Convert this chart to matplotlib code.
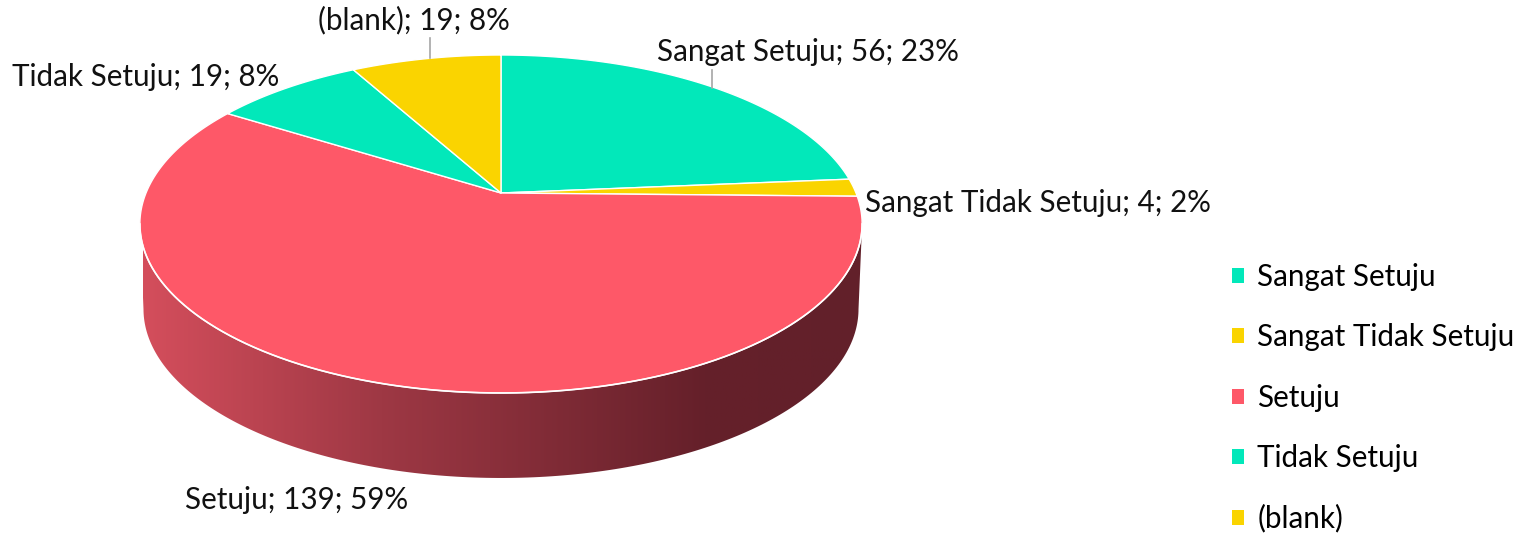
import numpy as np
import matplotlib
matplotlib.use("Agg")
import matplotlib.pyplot as plt
from matplotlib.patches import Polygon, Patch
from matplotlib.colors import LinearSegmentedColormap

# data
categories = ["Sangat Setuju", "Sangat Tidak Setuju", "Setuju", "Tidak Setuju", "(blank)"]
counts = [56, 4, 139, 19, 19]
percent_labels = [23, 2, 59, 8, 8]   # as printed on the chart
colors = ["#02E8BA", "#FAD400", "#FE5868", "#02E8BA", "#FAD400"]

# layout (pixel coords, y down)
CX, VY = 501, 193          # projected centre of the pie top
A, B, C = 355.0, 163.3, 0.1834   # perspective parameters
DEPTH = 85
label_pos = [(657, 52), (865, 203), (185, 500), (12, 77), (318, 20)]

plt.rcParams["font.family"] = ["Lato", "DejaVu Sans"]
FS = 21.3


def project(t, dy=0.0, sx=1.0):
    X, Y = np.cos(t), np.sin(t)
    w = 1 + C * Y
    return CX + sx * A * X / w, VY - B * Y / w + dy


fig = plt.figure(figsize=(15.37, 5.37), dpi=100)
ax = fig.add_axes([0, 0, 1, 1])

total = sum(counts)
fracs = np.array(counts) / total
# clockwise from 12 o'clock
starts = np.pi / 2 - 2 * np.pi * np.concatenate([[0], np.cumsum(fracs)[:-1]])
ends = starts - 2 * np.pi * fracs

# side wall (front visible part) with gradient
t_lo = np.pi + np.arcsin(C)
t_hi = 2 * np.pi - np.arcsin(C)
side_cmap = LinearSegmentedColormap.from_list(
    "side", [(0, "#D44E5C"), (0.33, "#9E3844"), (0.78, "#65202A"), (1, "#62202A")])
for s, e, col in zip(starts, ends, colors):
    # slice covers angles e..s (math angle, e < s); map into [t_lo, t_hi]
    for k in (-1, 0, 1):
        a0 = max(e + 2 * np.pi * k, t_lo)
        a1 = min(s + 2 * np.pi * k, t_hi)
        if a1 <= a0:
            continue
        tt = np.linspace(a0, a1, 200)
        xt, yt = project(tt)
        xb, yb = project(tt[::-1], DEPTH, 0.99)
        poly = Polygon(np.column_stack([np.r_[xt, xb], np.r_[yt, yb]]),
                       closed=True, facecolor="none", edgecolor="none")
        ax.add_patch(poly)
        grad = np.linspace(0, 1, 256).reshape(1, -1)
        im = ax.imshow(grad, cmap=side_cmap, aspect="auto",
                       extent=[143, 865, 485, 215], zorder=1)
        im.set_clip_path(poly)
        ax.plot(xt, yt, color="white", lw=1.2, zorder=3)

ax.set_xlim(0, 1537)
ax.set_ylim(537, 0)
ax.axis("off")

# top faces
for s, e, col in zip(starts, ends, colors):
    tt = np.linspace(s, e, 300)
    x, y = project(tt)
    pts = np.column_stack([np.r_[CX, x], np.r_[VY, y]])
    ax.add_patch(Polygon(pts, closed=True, facecolor=col, edgecolor="white",
                         lw=1.0, zorder=2, joinstyle="round"))

# data labels
for cat, n, p, (lx, ly) in zip(categories, counts, percent_labels, label_pos):
    ax.text(lx, ly, f"{cat}; {n}; {p}%", fontsize=FS, ha="left",
            va="center", color="#111111", zorder=5)

# leader lines
ax.plot([712, 712], [70, 88], color="#A6A6A6", lw=1.2, zorder=4)
ax.plot([430, 430], [38, 58], color="#A6A6A6", lw=1.2, zorder=4)

# legend
handles = [Patch(facecolor=c, edgecolor="none") for c in colors]
ax.legend(handles, categories, loc="center left", frameon=False,
          bbox_to_anchor=(1232 / 1537, 1 - 398 / 537), fontsize=FS,
          handlelength=0.4, handleheight=0.4, handletextpad=0.45,
          labelspacing=1.09, borderaxespad=0, borderpad=0)

fig.savefig("out.png", dpi=100)
